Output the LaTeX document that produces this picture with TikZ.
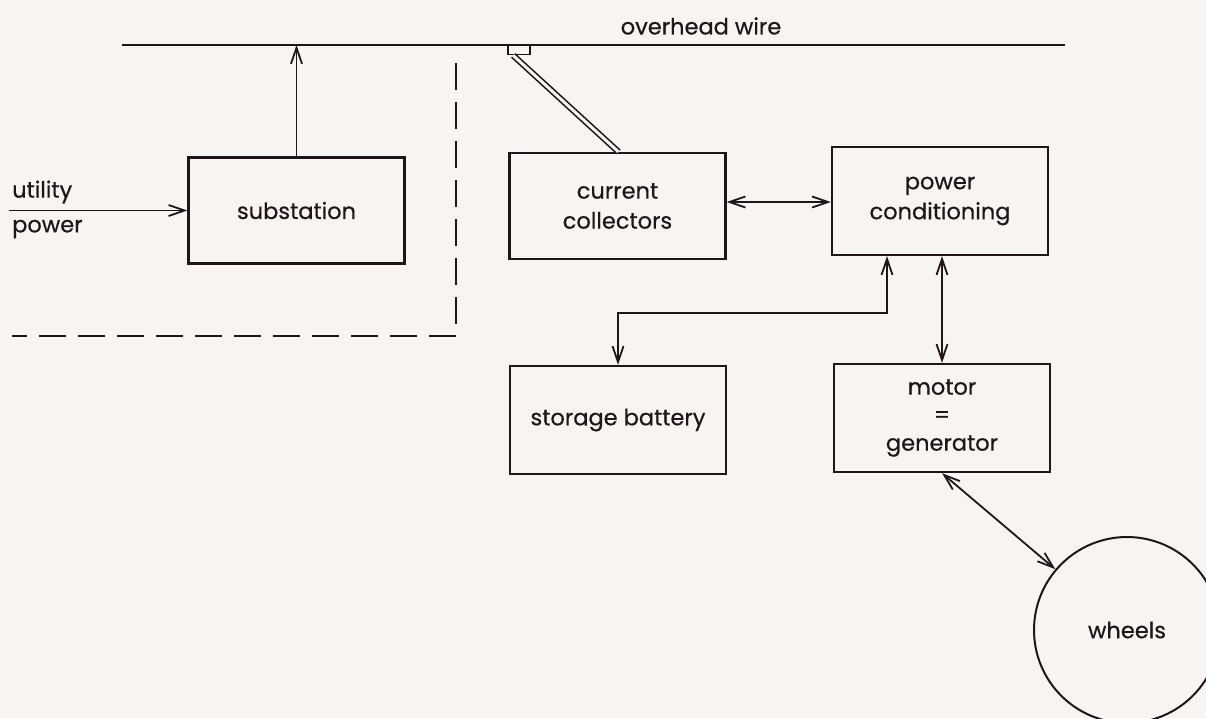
\documentclass[tikz,border=0pt]{standalone}
\usepackage{fontspec}
\setmainfont{Poppins}
\newfontfamily\gfont{Poppins}[FakeBold=0.5]
\usetikzlibrary{arrows.meta}
\definecolor{paper}{HTML}{F8F4F1}
\definecolor{ink}{HTML}{1E1618}
\begin{document}
\begin{tikzpicture}[x=1pt,y=-1pt,
  >={Straight Barb[length=16pt,width=11pt]},
  box/.style={draw=ink, line width=2.3pt, minimum width=216pt, minimum height=106pt,
    inner sep=0pt, align=center, text=ink, font=\gfont\fontsize{22.5}{30}\selectfont},
  lbl/.style={text=ink, inner sep=0pt, font=\gfont\fontsize{22.5}{24}\selectfont},
  conn/.style={draw=ink, line width=1.8pt},
  wire/.style={draw=ink, line width=2.4pt},
  bound/.style={draw=ink, line width=2.3pt, dash pattern=on 27pt off 12pt},
  pant/.style={draw=ink, line width=1.6pt, double=paper, double distance=3pt}
]
\fill[paper] (0,0) rectangle (1206,718);
\useasboundingbox (0,0) rectangle (1206,718);
\clip (0,0) rectangle (1206,718);

% overhead wire
\coordinate (wL) at (122,45);
\coordinate (wR) at (1065,45);
\draw[wire] (wL) -- (wR);
\node[lbl] (ow) at (701,26) {overhead wire};

% boxes
\node[box] (sub) at (296.5,210.5) {substation};
\node[box] (cc) at (617.5,206) {current\\collectors};
\node[box, minimum height=108pt] (pc) at (940,201) {power\\conditioning};
\node[box, minimum height=108pt] (sb) at (618,420) {storage battery};
\node[box, minimum height=108pt, font=\gfont\fontsize{22.5}{28}\selectfont] (mg) at (942,418) {motor\\=\\generator};
\node[draw=ink, line width=2pt, circle, minimum size=186pt, inner sep=0pt,
  text=ink, font=\gfont\fontsize{22.5}{24}\selectfont] (wheels) at (1127,630) {wheels};

% utility power input
\coordinate (uin) at (9,210.5);
\node[lbl, anchor=west] (ut) at (12,192) {utility};
\node[lbl, anchor=west] (pw) at (12,229) {power};
\draw[conn,->] (uin) -- (sub.west);

% substation to wire
\coordinate (wsub) at (296.5,45);
\draw[conn,->] (sub.north) -- (wsub);

% boundary
\coordinate (dtop) at (456,63);
\coordinate (dcorner) at (456,336);
\coordinate (dleft) at (12,336);
\draw[bound] (dtop) -- (dcorner) -- (dleft);

% pantograph
\node[draw=ink, line width=1.8pt, minimum width=22pt, minimum height=9pt, inner sep=0pt] (shoe) at (519,50) {};
\draw[pant] ([xshift=6pt]shoe.south west) -- ([xshift=1pt]cc.north);

% connectors
\coordinate (ccpc) at (725,202);
\draw[conn,<->] (cc.east |- ccpc) -- (pc.west |- ccpc);
\coordinate (j1) at (887,313);
\draw[conn,<->] (pc.south -| j1) -- (j1) -| (sb.north);
\draw[conn,<->] (mg.north |- pc.south) -- (mg.north);
\draw[conn,<->] (mg.south) -- (wheels);
\end{tikzpicture}
\end{document}
